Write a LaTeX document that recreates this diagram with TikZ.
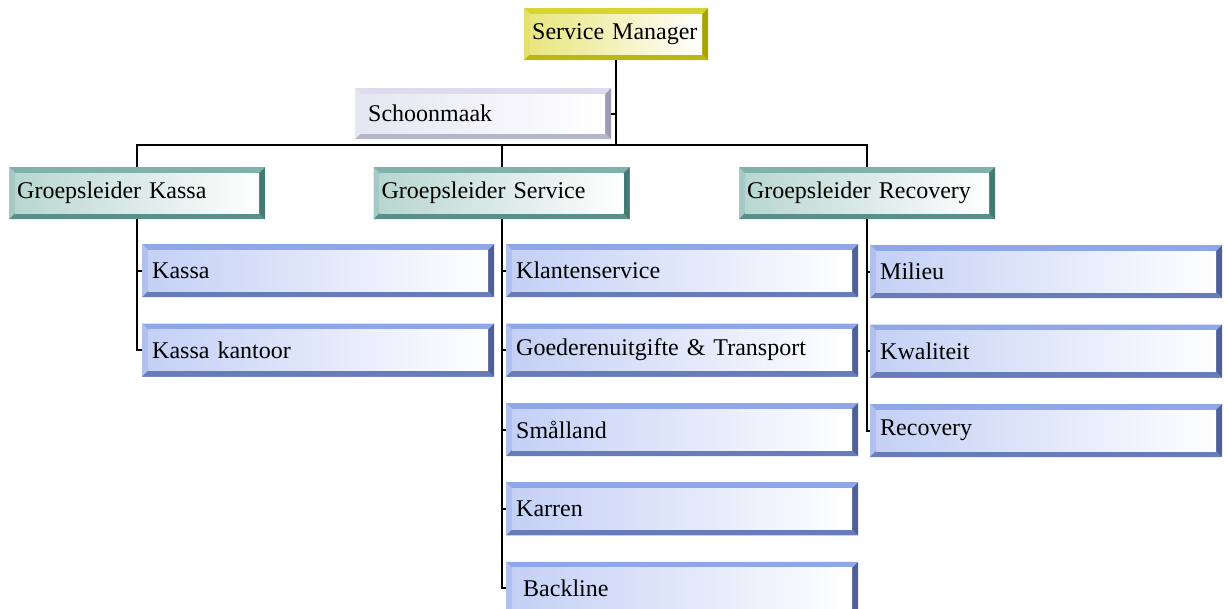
\documentclass[tikz,border=0pt]{standalone}
\usepackage{fontspec}
\setmainfont{Liberation Serif}
\usetikzlibrary{positioning}
\definecolor{smtop}{HTML}{D8D430}
\definecolor{smside}{HTML}{A9A500}
\definecolor{smin}{HTML}{E8E67E}
\definecolor{schtop}{HTML}{DCDCEC}
\definecolor{schside}{HTML}{9C9CB2}
\definecolor{schin}{HTML}{E6E6F2}
\definecolor{gltop}{HTML}{7EB2AA}
\definecolor{glside}{HTML}{437A72}
\definecolor{glin}{HTML}{B8D6D0}
\definecolor{untop}{HTML}{8FA6E8}
\definecolor{unside}{HTML}{4D6098}
\definecolor{unin}{HTML}{C4D0F5}
\tikzset{
  bevel/.style n args={3}{
    fill=#1,
    path picture={
      \coordinate (o1) at (path picture bounding box.north west);
      \coordinate (o2) at (path picture bounding box.north east);
      \coordinate (o3) at (path picture bounding box.south east);
      \coordinate (o4) at (path picture bounding box.south west);
      \coordinate (i1) at ([shift={(6pt,-6pt)}]o1);
      \coordinate (i2) at ([shift={(-6pt,-6pt)}]o2);
      \coordinate (i3) at ([shift={(-6pt,6pt)}]o3);
      \coordinate (i4) at ([shift={(6pt,6pt)}]o4);
      % top, left, bottom, right
      \fill[#1] (o1) -- (o2) -- (i2) -- (i1) -- cycle;
      \fill[#1!70!white] (o1) -- (i1) -- (i4) -- (o4) -- cycle;
      \fill[#2!60!#1] (o4) -- (i4) -- (i3) -- (o3) -- cycle;
      \fill[#2] (o2) -- (o3) -- (i3) -- (i2) -- cycle;
      \shade[left color=#3, right color=white] (i1) rectangle (i3);
    },
  },
  box base/.style={
    font=\fontsize{24}{28}\selectfont,
    align=left,
    inner ysep=0pt,
  },
  manager box/.style={
    box base, bevel={smtop}{smside}{smin},
    text width=168pt, inner xsep=8pt, minimum height=52pt,
  },
  clean box/.style={
    box base, bevel={schtop}{schside}{schin},
    text width=230pt, inner xsep=13pt, minimum height=51pt,
  },
  lead box/.style={
    box base, bevel={gltop}{glside}{glin},
    text width=240pt, inner xsep=8pt, minimum height=52pt,
  },
  unit box/.style={
    box base, bevel={untop}{unside}{unin},
    text width=332pt, inner xsep=10pt, minimum height=53pt,
  },
  link/.style={
    draw=black,
    line width=2pt,
  },
}

\begin{document}
\begin{tikzpicture}[x=1pt, y=-1pt, node distance=26pt]
        \useasboundingbox (0,0) rectangle (1228,609);

        \node [manager box, anchor=north west] (sm) at (524,8) {Service Manager};
        \node [clean box, anchor=north west] (sch) at (355,88) {Schoonmaak};

        \node [lead box, anchor=north west] (gk) at (9,167) {Groepsleider Kassa};
        \node [lead box, right=108pt of gk] (gs) {Groepsleider Service};
        \node [lead box, right=109pt of gs] (gr) {Groepsleider Recovery};

        \node [unit box, anchor=north west] (kassa) at (142,244) {Kassa};
        \node [unit box, below=of kassa] (kantoor) {Kassa kantoor};

        \node [unit box, anchor=north west] (klant) at (506,244) {Klantenservice};
        \node [unit box, below=of klant] (goed) {Goederenuitgifte \& Transport};
        \node [unit box, below=of goed] (smaland) {Smålland};
        \node [unit box, below=of smaland] (karren) {Karren};
        \node [unit box, below=of karren] (backline) {\hspace{7pt}Backline};

        \node [unit box, anchor=north west] (milieu) at (870,245) {Milieu};
        \node [unit box, below=of milieu] (kwaliteit) {Kwaliteit};
        \node [unit box, below=of kwaliteit] (recovery) {Recovery};

        \coordinate (bus) at (sm.south |- 0,145);

        \draw [link] (sm.south) -- (bus);
        \draw [link] (sch.east) -- (sch.east -| bus);
        \draw [link] (gk.north) |- (bus) -| (gr.north);
        \draw [link] (gs.north) -- (gs.north |- bus);

        \draw [link] (gk.south) |- (kantoor.west);
        \draw [link] (gk.south |- kassa.west) -- (kassa.west);

        \draw [link] (gs.south) |- (backline.west);
        \draw [link] (gs.south |- klant.west) -- (klant.west);
        \draw [link] (gs.south |- goed.west) -- (goed.west);
        \draw [link] (gs.south |- smaland.west) -- (smaland.west);
        \draw [link] (gs.south |- karren.west) -- (karren.west);

        \draw [link] (gr.south) |- (recovery.west);
        \draw [link] (gr.south |- milieu.west) -- (milieu.west);
        \draw [link] (gr.south |- kwaliteit.west) -- (kwaliteit.west);
\end{tikzpicture}
\end{document}
